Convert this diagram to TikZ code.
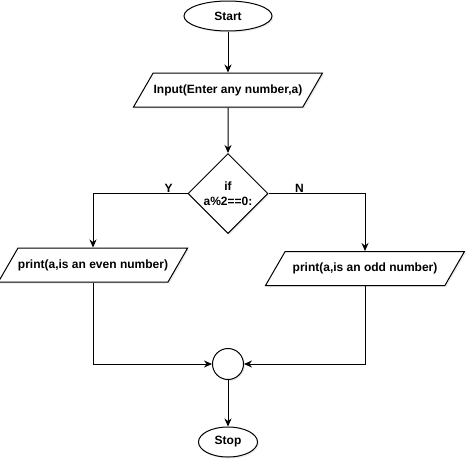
\documentclass[tikz,border=0pt]{standalone}
\usepackage{fontspec}
\setmainfont{Liberation Sans}
\usetikzlibrary{shapes.geometric,arrows.meta,shadows}

\definecolor{linecolor}{RGB}{0,0,0}
\definecolor{boxcolor}{RGB}{255,255,255}

\tikzset{
    flowbox/.style={draw=linecolor, fill=boxcolor, line width=1pt, inner sep=0pt,
        font=\fontsize{12}{14}\selectfont\bfseries,
        drop shadow={opacity=0.15, shadow xshift=1.5pt, shadow yshift=-1.5pt}},
    terminal/.style={flowbox, ellipse},
    io/.style={flowbox, trapezium, trapezium left angle=60, trapezium right angle=120,
        trapezium stretches body=true, text height=9pt, text depth=3pt, inner ysep=11pt},
    decision/.style={flowbox, diamond, aspect=1, minimum width=80pt, minimum height=80pt, align=center},
    joint/.style={flowbox, circle, minimum size=31pt},
    flow/.style={draw=linecolor, line width=1pt, -{Stealth[length=8pt,width=7pt]}},
    branch/.style={anchor=south, inner sep=1pt, font=\fontsize{12}{14}\selectfont\bfseries}
}

\begin{document}
\begin{tikzpicture}[x=1pt, y=-1pt]
    \useasboundingbox (0,0) rectangle (470,469);

    % Start and input
    \node[terminal, minimum width=88pt, minimum height=30pt] (start) at (228,16) {Start};
    \node[io, minimum width=189pt] (input) at (228,90) {Input(Enter any number,a)};

    % The test
    \node[decision] (cond) at (228,193.5) {if\\[1pt]a\%2==0:};

    % The two prints
    \node[io, minimum width=181pt] (even) at (93,265) {print(a,is an even number)};
    \node[io, minimum width=199pt] (odd) at (365,268.5) {print(a,is an odd number)};

    % Join and stop
    \node[joint] (join) at (228,364) {};
    \node[terminal, minimum width=59pt, minimum height=30pt] (stop) at (228,442) {Stop};

    % Connectors
    \draw[flow] (start) -- (input);
    \draw[flow] (input) -- (cond);
    \draw[flow] (cond.west) -| node[branch, pos=0.1] {Y} (even.north);
    \draw[flow] (cond.east) -| node[branch, pos=0.16] {N} (odd.north);
    \draw[flow] (even.south) |- (join.west);
    \draw[flow] (odd.south) |- (join.east);
    \draw[flow] (join) -- (stop);
\end{tikzpicture}
\end{document}
